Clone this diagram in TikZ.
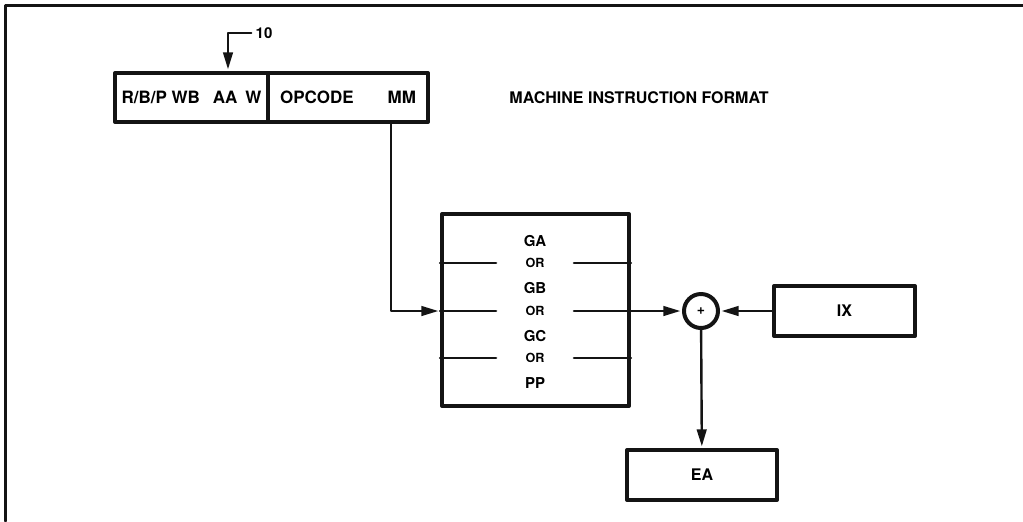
\documentclass[tikz,border=0pt]{standalone}
\usepackage{fontspec}
\setmainfont{TeX Gyre Heros}
\usetikzlibrary{arrows.meta,calc}
\definecolor{ink}{HTML}{141414}

\begin{document}
\begin{tikzpicture}[x=0.5pt,y=-0.5pt,line cap=round,line join=round,
    fieldbox/.style={draw=ink,line width=2pt,inner sep=0pt,minimum height=24.5pt,font=\bfseries\fontsize{8.5}{9}\selectfont},
    glabel/.style={inner sep=0pt,font=\bfseries\fontsize{7.5}{8}\selectfont},
    orlabel/.style={inner sep=0pt,minimum width=38.5pt,font=\bfseries\fontsize{6.3}{7}\selectfont},
    wire/.style={draw=ink,line width=1.2pt},
    feed/.style={wire,shorten >=0.8pt,-{Triangle[length=8.5pt,width=4.8pt]}}]
    \useasboundingbox (0,0) rectangle (1023,521);
    % frame
    \draw[ink,line width=1.5pt] (5,521) -- (5,5) -- (1023,5);
    % instruction word
    \node[fieldbox,minimum width=76.5pt] (fieldA) at (191.5,97.5) {R/B/P WB\hspace{6.5pt}AA\hspace{4pt}W};
    \node[fieldbox,minimum width=80pt] (fieldB) at (348,97.5) {OPCODE\hspace{17pt}MM};
    \node[inner sep=0pt,font=\bfseries\fontsize{8}{9}\selectfont] (title) at (639,98) {MACHINE INSTRUCTION FORMAT};
    \node[inner sep=2pt,font=\bfseries\fontsize{7.5}{8}\selectfont] (ten) at (264,33) {10};
    \coordinate (tenx) at (228,34);
    \draw[feed] (ten.west) -- (ten.west -| tenx) -- (tenx |- fieldA.north);
    % base register select
    \node[draw=ink,line width=2pt,minimum width=93.5pt,minimum height=96pt] (gsel) at (535.5,310) {};
    \foreach \txt/\ypos/\nm in {GA/241/gA,GB/288/gB,GC/336/gC,PP/383/gP}
      \node[glabel] (\nm) at (535,\ypos) {\txt};
    \foreach \ypos/\nm in {263/orA,311/orB,358/orC}
      \node[orlabel] (\nm) at (535,\ypos) {OR};
    \foreach \nm in {orA,orC} {
      \draw[wire] (gsel.west |- \nm) -- (\nm.west);
      \draw[wire] (\nm.east) -- (gsel.east |- \nm);
    }
    \draw[wire] (gsel.west |- orB) -- (orB.west);
    % adder, index, result
    \node[circle,draw=ink,line width=2pt,minimum size=17pt,inner sep=0pt,font=\bfseries\fontsize{7}{7}\selectfont] (adder) at (701,311) {+};
    \node[fieldbox,minimum width=70.5pt,minimum height=25pt,font=\bfseries\fontsize{8}{8}\selectfont] (ix) at (844.5,311) {IX};
    \node[fieldbox,minimum width=75pt,minimum height=25pt,font=\bfseries\fontsize{8}{8}\selectfont] (ea) at (702,475) {EA};
    \coordinate (mmtap) at (391,122);
    \draw[feed] (mmtap) |- (gsel.west |- orB);
    \draw[feed] (orB.east) -- (adder);
    \draw[feed] (ix) -- (adder);
    \draw[feed] (adder) -- (ea);
\end{tikzpicture}
\end{document}
